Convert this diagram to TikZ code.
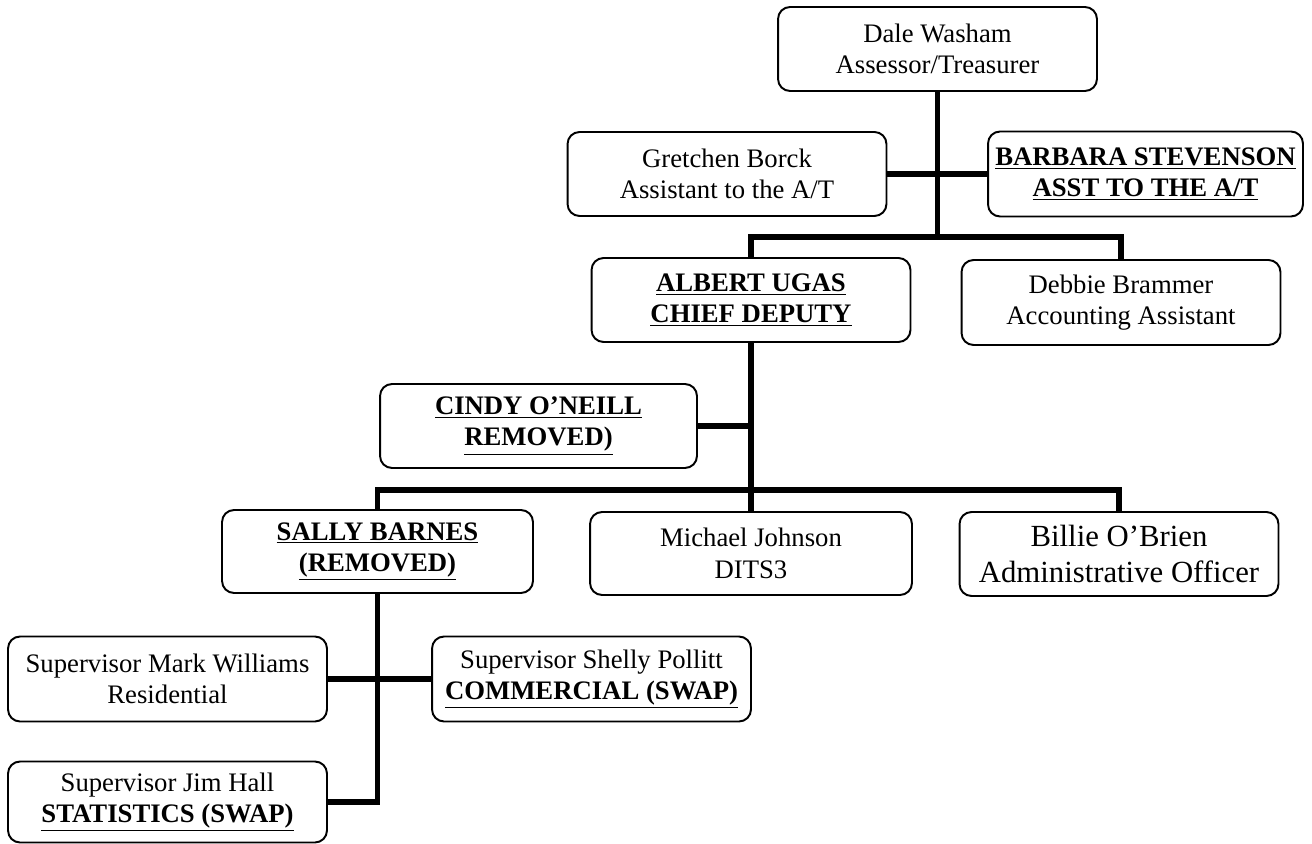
\documentclass[tikz,border=0pt]{standalone}
\usepackage{fontspec}
\setmainfont{Liberation Serif}
\newcommand{\ul}[1]{\underline{\textbf{#1}}}
\begin{document}
\begin{tikzpicture}[x=0.02cm,y=-0.02cm,line width=1.1pt,
  box/.style={draw,rounded corners=0.24cm,align=center,inner sep=2pt,minimum width=6.38cm,
    font=\fontsize{15.2}{17.8}\selectfont},
  link/.style={line width=2.9pt}]
\useasboundingbox (0,0) rectangle (1312,844);
\node[box,minimum height=1.68cm] (dale) at (937.5,49) {Dale Washam\\Assessor/Treasurer};
\node[box,minimum height=1.68cm] (gretchen) at (727,174) {Gretchen Borck\\Assistant to the A/T};
\node[box,minimum height=1.7cm,minimum width=6.3cm] (barbara) at (1145.5,174) {\ul{BARBARA STEVENSON}\\\ul{ASST TO THE A/T}};
\node[box,minimum height=1.68cm] (albert) at (751,300) {\ul{ALBERT UGAS}\\\ul{CHIEF DEPUTY}};
\node[box,minimum height=1.7cm] (debbie) at (1121,302.5) {Debbie Brammer\\Accounting Assistant};
\node[box,minimum height=1.68cm,minimum width=6.34cm] (cindy) at (538.5,426) {\ul{CINDY O'NEILL}\\\ul{REMOVED)}};
\node[box,minimum height=1.66cm,minimum width=6.22cm] (sally) at (377.5,551.5) {\ul{SALLY BARNES}\\\ul{(REMOVED)}};
\node[box,minimum height=1.66cm,minimum width=6.44cm] (michael) at (751,553.5) {Michael Johnson\\DITS3};
\node[box,minimum height=1.68cm,font=\fontsize{17.5}{20.5}\selectfont] (billie) at (1119,554) {Billie O'Brien\\Administrative Officer};
\node[box,minimum height=1.7cm] (mark) at (167.5,679) {Supervisor Mark Williams\\Residential};
\node[box,minimum height=1.7cm] (shelly) at (591.5,679) {Supervisor Shelly Pollitt\\\ul{COMMERCIAL (SWAP)}};
\node[box,minimum height=1.62cm] (jim) at (167.5,802) {Supervisor Jim Hall\\\ul{STATISTICS (SWAP)}};
\coordinate (t1) at (937.5,237);
\coordinate (t2) at (751,490);
\draw[link] (dale.south) -- (t1);
\draw[link] (gretchen.east) -- (barbara.west);
\draw[link] (albert.north) |- (t1) -| (debbie.north);
\draw[link] (albert.south) -- (michael.north);
\draw[link] (cindy.east) -- (cindy.east -| albert.south);
\draw[link] (sally.north) |- (t2) -| (billie.north);
\draw[link] (sally.south) |- (jim.east);
\draw[link] (mark.east) -- (shelly.west);
\end{tikzpicture}
\end{document}
